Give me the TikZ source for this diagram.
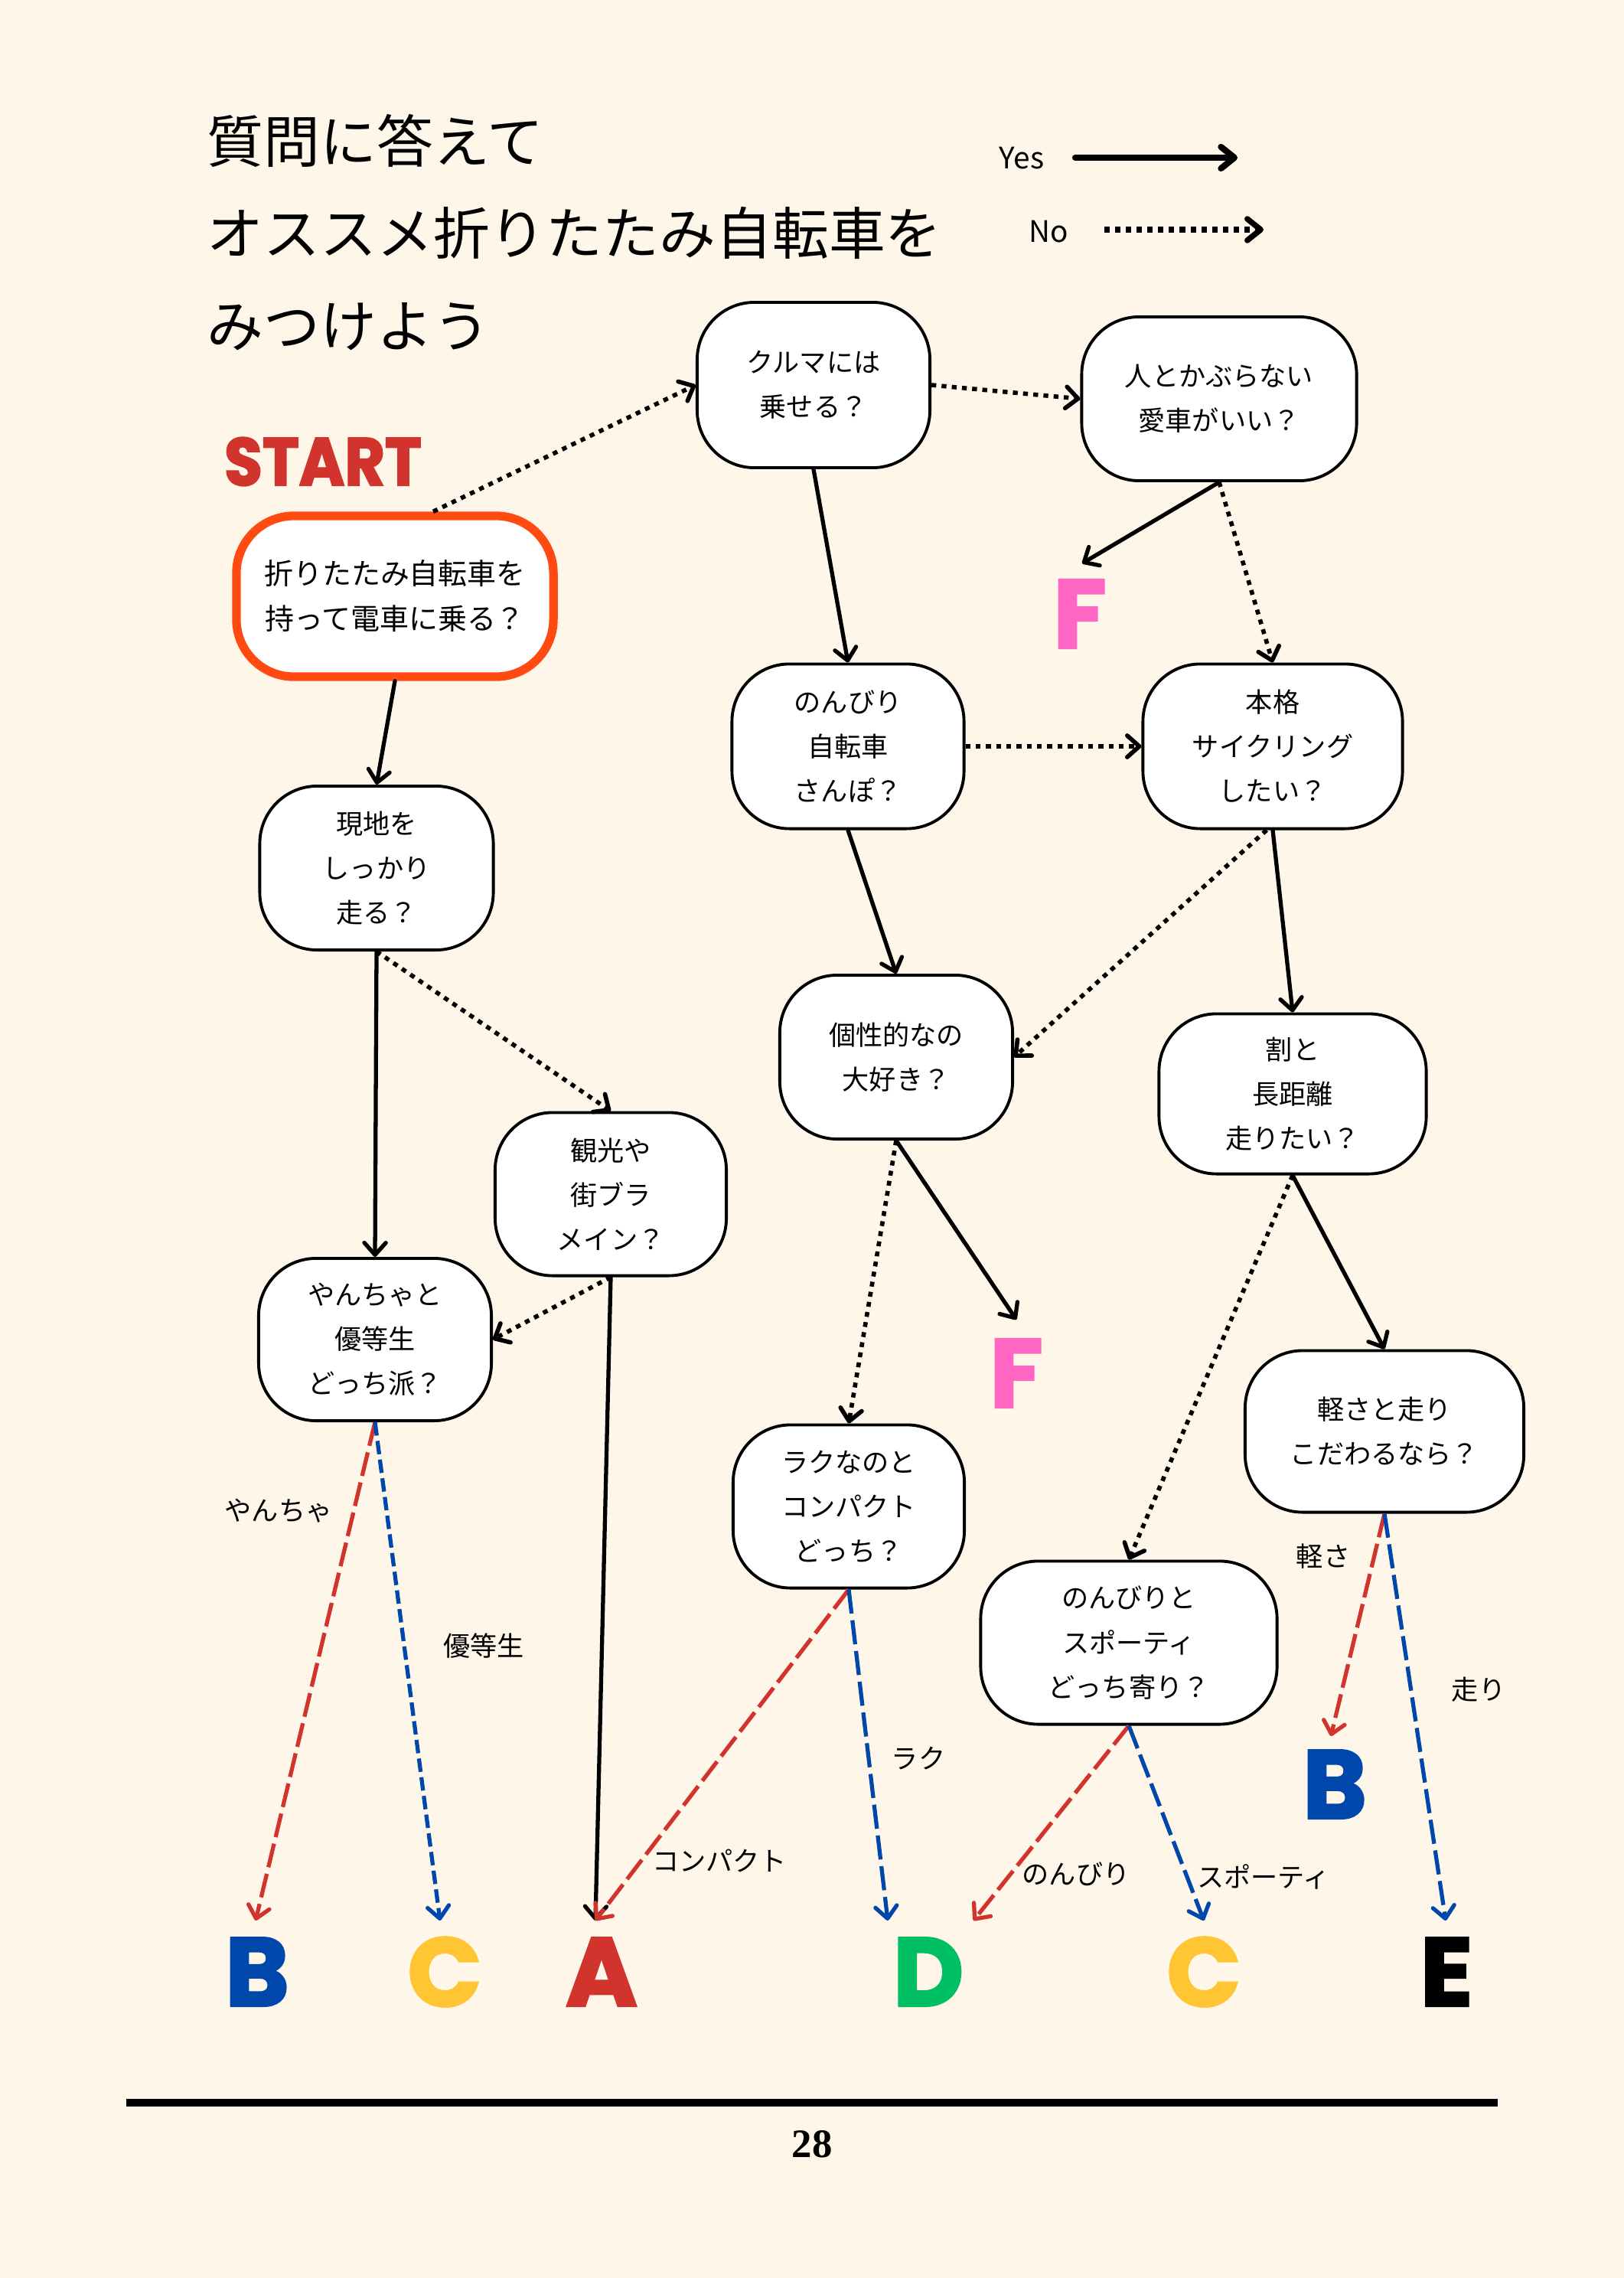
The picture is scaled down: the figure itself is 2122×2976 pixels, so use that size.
\documentclass[tikz,border=0pt]{standalone}
\usepackage{fontspec}
\setmainfont{Noto Sans CJK JP}
\newfontfamily\heavy{Poppins Bold}[FakeBold=2.5]
\newfontfamily\numfont{Liberation Serif}
\usetikzlibrary{arrows.meta,calc}
\definecolor{bg}{HTML}{FEF6E8}
\definecolor{startred}{HTML}{FF4A12}
\definecolor{cred}{HTML}{D0342C}
\definecolor{cblue}{HTML}{0047AB}
\definecolor{cyellow}{HTML}{FFC533}
\definecolor{cgreen}{HTML}{00BF63}
\definecolor{cpink}{HTML}{FF66C4}
\tikzset{
  qbox/.style 2 args={draw=black, line width=1.1pt, fill=white, rounded corners=0.75cm,
    align=center, font=\fontsize{10}{16.5}\selectfont, inner sep=0pt,
    minimum width=#1cm, minimum height=#2cm},
  res/.style={font=\heavy\fontsize{36}{36}\selectfont, inner sep=0pt},
  lab/.style={font=\fontsize{10}{12}\selectfont, inner sep=0pt},
  tip/.style={-{Straight Barb[length=4.5pt,width=8pt,line cap=round,line join=round]}},
  yesarrow/.style={draw=black, line width=1.5pt, line cap=round, tip},
  noarrow/.style={draw=black, line width=1.6pt, dash pattern=on 1.8pt off 2pt, tip},
  redarrow/.style={draw=cred, line width=1.5pt, dash pattern=on 9pt off 2.5pt, tip},
  bluearrow/.style={draw=cblue, line width=1.5pt, dash pattern=on 9pt off 2.5pt, tip},
}
\begin{document}
\begin{tikzpicture}[x=0.01cm,y=-0.01cm]
\fill[bg] (0,0) rectangle (2122,2976);
\useasboundingbox (0,0) rectangle (2122,2976);

% title
\node[anchor=west, inner sep=0pt, font=\fontsize{21}{21}\selectfont] (t1) at (270,184) {質問に答えて};
\node[anchor=west, inner sep=0pt, font=\fontsize{21}{21}\selectfont] (t2) at (270,304) {オススメ折りたたみ自転車を};
\node[anchor=west, inner sep=0pt, font=\fontsize{21}{21}\selectfont] (t3) at (270,427) {みつけよう};

% legend
\node[lab, font=\fontsize{11}{12}\selectfont] (yes) at (1335,207) {Yes};
\node[lab, font=\fontsize{11}{12}\selectfont] (no) at (1370,303) {No};
\coordinate (ys) at (1405,206);
\coordinate (ye) at (1617,206);
\coordinate (ns) at (1443,300);
\coordinate (ne) at (1651,300);
\draw[line width=2.3pt, line cap=round, -{Straight Barb[length=5pt,width=8pt,line cap=round,line join=round]}] (ys) -- (ye);
\draw[line width=2.1pt, dash pattern=on 2pt off 2pt, -{Straight Barb[length=5pt,width=8pt,line cap=round,line join=round]}] (ns) -- (ne);

% START
\node[inner sep=0pt, text=cred, font=\heavy\fontsize{25}{25}\selectfont, xscale=0.92] (start) at (422,603) {START};

% question nodes
\node[qbox={4.14}{2.10}, draw=startred, line width=3.2pt, font=\fontsize{10.8}{16.8}\selectfont] (st) at (516,779) {折りたたみ自転車を\\持って電車に乗る？};
\node[qbox={3.04}{2.16}] (q2) at (1063,503) {クルマには\\乗せる？};
\node[qbox={3.59}{2.14}] (q3) at (1593,521) {人とかぶらない\\愛車がいい？};
\node[qbox={3.03}{2.15}] (q4) at (1108,975) {のんびり\\自転車\\さんぽ？};
\node[qbox={3.39}{2.15}] (q5) at (1663,975) {本格\\サイクリング\\したい？};
\node[qbox={3.05}{2.14}] (q6) at (492,1134) {現地を\\しっかり\\走る？};
\node[qbox={3.04}{2.14}] (q7) at (1171,1381) {個性的なの\\大好き？};
\node[qbox={3.49}{2.09}] (q8) at (1689,1429) {割と\\長距離\\走りたい？};
\node[qbox={3.02}{2.13}] (q9) at (798,1560) {観光や\\街ブラ\\メイン？};
\node[qbox={3.04}{2.12}] (q10) at (490,1750) {やんちゃと\\優等生\\どっち派？};
\node[qbox={3.64}{2.11}] (q11) at (1809,1870) {軽さと走り\\こだわるなら？};
\node[qbox={3.02}{2.13}] (q12) at (1109,1968) {ラクなのと\\コンパクト\\どっち？};
\node[qbox={3.87}{2.13}] (q13) at (1475,2146) {のんびりと\\スポーティ\\どっち寄り？};

% results
\node[res, text=cpink] (f1) at (1411,802) {F};
\node[res, text=cpink] (f2) at (1328,1794) {F};
\node[res, text=cblue] (bL) at (336,2576) {B};
\node[res, text=cyellow] (cL) at (581,2576) {C};
\node[res, text=cred] (aL) at (786,2576) {A};
\node[res, text=cgreen] (dL) at (1213,2576) {D};
\node[res, text=cyellow] (cR) at (1573,2576) {C};
\node[res, text=black] (eL) at (1890,2576) {E};
\node[res, text=cblue] (bR) at (1744,2331) {B};

% connectors
\draw[noarrow] ([xshift=0.5cm]st.north) -- (q2.west);
\draw[yesarrow] (st.south) -- (q6.north);
\draw[noarrow] (q2.east) -- (q3.west);
\draw[yesarrow] (q2.south) -- (q4.north);
\draw[yesarrow] (q3.south) -- ($(f1)+(3,-66)$);
\draw[noarrow] (q3.south) -- (q5.north);
\draw[noarrow] (q4.east) -- (q5.west);
\draw[yesarrow] (q4.south) -- (q7.north);
\draw[noarrow] ([xshift=-0.08cm]q5.south) -- (q7.east);
\draw[yesarrow] (q5.south) -- (q8.north);
\draw[yesarrow] (q6.south) -- (q10.north);
\draw[noarrow] (q6.south) -- (q9.north);
\draw[noarrow] (q9.south) -- (q10.east);
\draw[yesarrow] (q9.south) -- ($(aL)+(-8,-67)$);
\draw[noarrow] (q7.south) -- (q12.north);
\draw[yesarrow] (q7.south) -- ($(f2)+(0,-70)$);
\draw[noarrow] (q8.south) -- (q13.north);
\draw[yesarrow] (q8.south) -- (q11.north);

\draw[redarrow] (q10.south) -- ($(bL)+(-2,-67)$);
\draw[bluearrow, dash pattern=on 5pt off 2pt] (q10.south) -- ($(cL)+(-6,-67)$);
\draw[redarrow] (q12.south) -- ($(aL)+(-8,-67)$);
\draw[bluearrow] (q12.south) -- ($(dL)+(-53,-67)$);
\draw[redarrow] (q13.south) -- ($(dL)+(59,-67)$);
\draw[bluearrow] (q13.south) -- ($(cR)+(0,-67)$);
\draw[redarrow] (q11.south) -- ($(bR)+(-5,-63)$);
\draw[bluearrow] (q11.south) -- ($(eL)+(-1,-67)$);

% branch labels
\node[lab] (l1) at (364,1974) {やんちゃ};
\node[lab] (l2) at (632,2150) {優等生};
\node[lab] (l3) at (940,2431) {コンパクト};
\node[lab] (l4) at (1200,2297) {ラク};
\node[lab] (l5) at (1406,2448) {のんびり};
\node[lab] (l6) at (1651,2452) {スポーティ};
\node[lab] (l7) at (1729,2033) {軽さ};
\node[lab] (l8) at (1932,2207) {走り};

% footer
\coordinate (r1) at (165,2747);
\coordinate (r2) at (1957,2747);
\draw[line width=3.1pt] (r1) -- (r2);
\node[inner sep=0pt, font=\numfont\bfseries\fontsize{15}{15}\selectfont] (pg) at (1061,2801) {28};
\end{tikzpicture}
\end{document}
